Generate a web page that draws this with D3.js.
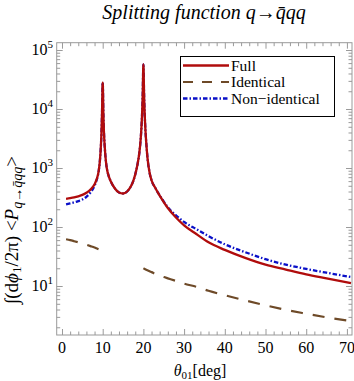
<!DOCTYPE html>
<html>
<head>
<meta charset="utf-8">
<script src="https://cdn.jsdelivr.net/npm/d3@7"></script>
<style>
body { margin: 0; background: #fff; }
text { font-family: "Liberation Serif", "DejaVu Serif", serif; }
</style>
</head>
<body>
<script>
// data
var theta = [1, 2, 3, 4, 5, 6, 7, 8, 8.5, 9, 9.3, 9.5, 9.7, 9.85, 9.95, 10, 10.05, 10.15, 10.3, 10.5, 10.7,
    11, 11.5, 12, 13, 14, 15, 16, 17, 17.5, 18, 18.5, 19, 19.3, 19.5, 19.7, 19.85, 19.95, 20, 20.05, 20.15,
    20.3, 20.5, 20.7, 21, 21.5, 22, 23, 24, 25, 26, 28, 30, 33, 36, 40, 45, 50, 55, 60, 65, 71];
var full = [300, 308, 318, 332, 350, 380, 430, 530, 640, 880, 1300, 2000, 4000, 9500, 24000, 28000, 24000, 9500, 4200, 2300, 1500,
    1000, 720, 590, 450, 385, 370, 400, 500, 600, 780, 1100, 1800, 2900, 4600, 9000, 20000, 48000, 57000, 48000, 20000,
    9000, 4400, 2700, 1500, 850, 620, 450, 340, 265, 210, 145, 107, 76, 55, 41, 30, 23, 19, 15.8, 13.5, 11.2];
var identical = [62, 60, 57.5, 55, 52.5, 50, 47.5, 45, 43.5, 42, 41.3, 40.8, 40.4, 40.1, 40, 39.8, null, null, null, null, null,
    null, null, null, null, null, null, null, null, null, null, null, null, null, null, null, null, null, 20, 19.9, 19.7,
    19.5, 19.2, 18.9, 18.5, 17.8, 17.2, 16, 15, 14.2, 13.5, 12.2, 11, 9.7, 8.3, 7, 5.7, 4.7, 3.95, 3.4, 2.95, 2.55];
var nonIdentical = [243, 252, 262, 275, 292, 325, 385, 500, 620, 870, 1300, 2000, 4000, 9500, 24000, 28000, 24000, 9500, 4200, 2300, 1500,
    1000, 720, 590, 450, 385, 370, 400, 500, 600, 780, 1100, 1800, 2900, 4600, 9000, 20000, 48000, 57000, 48000, 20000,
    9000, 4400, 2700, 1500, 850, 620, 450, 345, 270, 217, 158, 122, 92, 70, 51, 37.5, 28.5, 23, 19.5, 16.8, 14.2];
var xTicks = [0, 10, 20, 30, 40, 50, 60, 70];
var yTicks = [1e1, 1e2, 1e3, 1e4, 1e5];
var seriesNames = ["Full", "Identical", "Non\u2212identical"];

var frameColor = "#9a9a9a";

var svg = d3.select("body")
    .append("svg")
    .attr("width", 354)
    .attr("height", 381);

var plotLeft = 56.7, plotRight = 352, plotTop = 42.7, plotBottom = 335;

var x = d3.scaleLinear().domain([-1.3, 71.25]).range([plotLeft, plotRight]);
var y = d3.scaleLog().domain([Math.pow(10, 0.17), Math.pow(10, 5.124)]).range([plotBottom, plotTop]);

// title
svg.append("text")
    .attr("x", 204)
    .attr("y", 19)
    .attr("text-anchor", "middle")
    .attr("font-size", "20px")
    .attr("font-style", "italic")
    .text("Splitting function q\u2192q\u0304qq");

// frame
svg.append("rect")
    .attr("x", plotLeft)
    .attr("y", plotTop)
    .attr("width", plotRight - plotLeft)
    .attr("height", plotBottom - plotTop)
    .attr("fill", "none")
    .attr("stroke", frameColor)
    .attr("stroke-width", 1);

// minor ticks
var xMinor = d3.range(0, 71, 2).filter(function(d){ return d % 10 !== 0; });
var yMinor = [];
for (var e = 0; e <= 5; e++) {
    for (var m = 2; m <= 9; m++) {
        var v = m * Math.pow(10, e);
        if (v > y.domain()[0] && v < y.domain()[1]) yMinor.push(v);
    }
}

function drawTicks(axis, transform, values, size) {
    var g = svg.append("g")
        .attr("transform", transform)
        .call(axis.tickValues(values).tickSize(size).tickFormat(""));
    g.select(".domain").remove();
    g.selectAll("line").attr("stroke", frameColor);
}

var atBottom = "translate(0," + plotBottom + ")",
    atTop = "translate(0," + plotTop + ")",
    atLeft = "translate(" + plotLeft + ",0)",
    atRight = "translate(" + plotRight + ",0)";

drawTicks(d3.axisBottom(x), atBottom, xMinor, -3.5);
drawTicks(d3.axisTop(x), atTop, xMinor, -3.5);
drawTicks(d3.axisBottom(x), atBottom, xTicks, -6);
drawTicks(d3.axisTop(x), atTop, xTicks, -6);
drawTicks(d3.axisLeft(y), atLeft, yMinor, -3.5);
drawTicks(d3.axisRight(y), atRight, yMinor, -3.5);
drawTicks(d3.axisLeft(y), atLeft, yTicks, -6);
drawTicks(d3.axisRight(y), atRight, yTicks, -6);

// x tick labels
svg.selectAll("text.x-label")
    .data(xTicks).enter()
    .append("text")
    .attr("class", "x-label")
    .attr("x", function(d){ return x(d); })
    .attr("y", 353)
    .attr("text-anchor", "middle")
    .attr("font-size", "16px")
    .text(function(d){ return d; });

// y tick labels 10^n
var ylab = svg.selectAll("text.y-label")
    .data(yTicks).enter()
    .append("text")
    .attr("class", "y-label")
    .attr("x", 53)
    .attr("y", function(d){ return y(d) + 5; })
    .attr("text-anchor", "end")
    .attr("font-size", "16px");
ylab.append("tspan").text("10");
ylab.append("tspan")
    .attr("font-size", "11px")
    .attr("dy", -7)
    .text(function(d){ return Math.round(Math.log10(d)); });

// axis titles
var xt = svg.append("text")
    .attr("x", 200)
    .attr("y", 376)
    .attr("text-anchor", "middle")
    .attr("font-size", "16px");
xt.append("tspan").attr("font-style", "italic").text("\u03b8");
xt.append("tspan").attr("font-size", "11px").attr("dy", 3).text("01");
xt.append("tspan").attr("dy", -3).text("[deg]");

var yt = svg.append("text")
    .attr("transform", "translate(18,230) rotate(-90)")
    .attr("text-anchor", "middle")
    .attr("font-size", "19px");
yt.append("tspan").text("\u222b(d");
yt.append("tspan").attr("font-style", "italic").text("\u03d5");
yt.append("tspan").attr("font-size", "13px").attr("dy", 3).text("1");
yt.append("tspan").attr("dy", -3).text("/2\u03c0) <");
yt.append("tspan").attr("font-style", "italic").text("P");
yt.append("tspan").attr("font-size", "14px").attr("font-style", "italic").attr("dy", 4).text("q\u2192q\u0304qq");
yt.append("tspan").attr("dy", -4).text(">");

// curves
svg.append("clipPath").attr("id", "clip")
    .append("rect").attr("x", plotLeft).attr("y", plotTop)
    .attr("width", plotRight - plotLeft).attr("height", plotBottom - plotTop);

var line = d3.line()
    .defined(function(d){ return d[1] !== null; })
    .curve(d3.curveMonotoneX)
    .x(function(d){ return x(d[0]); })
    .y(function(d){ return y(d[1]); });

function pairs(vals) {
    return theta.map(function(t, i){ return [t, vals[i]]; });
}

var styles = [
    {data: nonIdentical, color: "#0a10c8", dash: "4.5,2,1.5,2", width: 2.3},
    {data: identical, color: "#6e4a28", dash: "12,10", width: 2.2},
    {data: full, color: "#b00c0c", dash: null, width: 2.3}
];

var plot = svg.append("g").attr("clip-path", "url(#clip)");
styles.forEach(function(s){
    plot.append("path")
        .attr("d", line(pairs(s.data)))
        .attr("fill", "none")
        .attr("stroke", s.color)
        .attr("stroke-width", s.width)
        .attr("stroke-dasharray", s.dash);
});

// legend
svg.append("rect")
    .attr("x", 180.5)
    .attr("y", 56.5)
    .attr("width", 154)
    .attr("height", 60)
    .attr("fill", "#fff")
    .attr("stroke", "#000")
    .attr("stroke-width", 1);

var legendStyles = [styles[2], styles[1], styles[0]];
var rowY = [65.5, 82, 98.5];
legendStyles.forEach(function(s, i){
    svg.append("line")
        .attr("x1", 183)
        .attr("x2", 229)
        .attr("y1", rowY[i])
        .attr("y2", rowY[i])
        .attr("stroke", s.color)
        .attr("stroke-width", s.width)
        .attr("stroke-dasharray", i === 1 ? "10,9" : s.dash);
    svg.append("text")
        .attr("x", 231)
        .attr("y", rowY[i] + 5)
        .attr("font-size", "15.5px")
        .text(seriesNames[i]);
});
</script>
</body>
</html>
